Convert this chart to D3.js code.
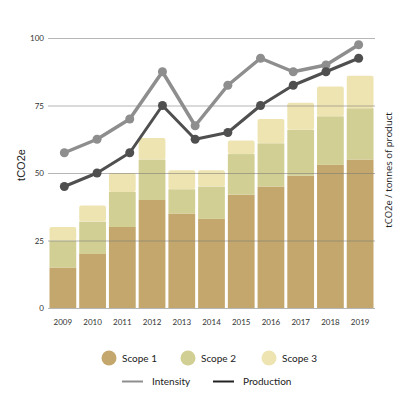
<!DOCTYPE html>
<html><head><meta charset="utf-8">
<script src="https://cdn.jsdelivr.net/npm/d3@7"></script>
<style>body{margin:0;background:#fff}svg{display:block}</style>
</head><body>
<script>
const years = ["2009","2010","2011","2012","2013","2014","2015","2016","2017","2018","2019"];
const scope1 = [15,20,30,40,35,33,42,45,49,53,55];
const scope2 = [10,12,13,15,9,12,15,16,17,18,19];
const scope3 = [5,6,7,8,7,6,5,9,10,11,12];
const lineIdx = ["p1","p2","p3","p4","p5","p6","p7","p8","p9","p10"];
const intensity = [57.5,62.5,70,87.5,67.5,82.5,92.5,87.5,90,97.5];
const production = [45,50,57.5,75,62.5,65,75,82.5,87.5,92.5];
const yTicks = [0,25,50,75,100];
const seriesNames = ["Scope 1","Scope 2","Scope 3"];
const colors = ["#c3a76c","#d1cf93","#ede4b1"];

const W=402,H=402;
const svg=d3.select("body").append("svg").attr("width",W).attr("height",H);
const x=d3.scaleBand().domain(years).range([48,375]).paddingInner(0.1).paddingOuter(0.05);
const xl=d3.scalePoint().domain(lineIdx).range([48,375]).padding(0.5);
const y=d3.scaleLinear().domain([0,100]).range([308,38]);

const rows=years.map((yr,i)=>({year:yr,s1:scope1[i],s2:scope2[i],s3:scope3[i]}));
const stack=d3.stack().keys(["s1","s2","s3"])(rows);
stack.forEach((layer,k)=>{
  svg.append("g").selectAll("rect").data(layer).join("rect")
    .attr("x",d=>x(d.data.year)).attr("width",x.bandwidth())
    .attr("y",d=>y(d[1])).attr("height",d=>y(d[0])-y(d[1]))
    .attr("rx",k===2?2:0)
    .attr("fill",colors[k]);
});

// gridlines on top
const ga=svg.append("g").attr("transform","translate(48,0)")
  .call(d3.axisLeft(y).tickValues(yTicks).tickSize(-327).tickPadding(4));
ga.select(".domain").remove();
ga.selectAll(".tick line").attr("stroke","#7a7a7a").attr("stroke-opacity",0.55);
ga.selectAll(".tick text").attr("font-family","Lato").attr("font-size",8).attr("fill","#333");

const gx=svg.append("g").attr("transform","translate(0,308)")
  .call(d3.axisBottom(x).tickSize(0).tickPadding(11));
gx.select(".domain").remove();
gx.selectAll(".tick text").attr("font-family","Lato").attr("font-size",8).attr("fill","#333");

function drawLine(vals,color,w,r){
  const pts=vals.map((v,i)=>[xl(lineIdx[i]),y(v)]);
  svg.append("path").attr("d",d3.line()(pts)).attr("fill","none")
    .attr("stroke",color).attr("stroke-width",w).attr("stroke-linejoin","round");
  svg.append("g").selectAll("circle").data(pts).join("circle")
    .attr("cx",d=>d[0]).attr("cy",d=>d[1]).attr("r",r).attr("fill",color);
}
drawLine(intensity,"#8e8e8e",3.5,4.5);
drawLine(production,"#4f4f4f",3,4.5);

svg.append("text").attr("transform","translate(25,165) rotate(-90)")
  .attr("text-anchor","middle").attr("font-family","Liberation Sans, Arial").attr("font-size",11).attr("fill","#222").text("tCO2e");
svg.append("text").attr("transform","translate(392,170) rotate(-90)")
  .attr("text-anchor","middle").attr("font-family","Open Sans").attr("font-size",9.5).attr("fill","#222").text("tCO2e / tonnes of product");

// legend
const lx=[109,188,269];
seriesNames.forEach((n,i)=>{
  svg.append("circle").attr("cx",lx[i]).attr("cy",358).attr("r",7.5).attr("fill",colors[i]);
  svg.append("text").attr("x",lx[i]+13).attr("y",361.5).attr("font-family","Lato").attr("font-size",10).attr("fill","#222").text(n);
});
const ll=[{n:"Intensity",c:"#8e8e8e",x:122},{n:"Production",c:"#222",x:213}];
ll.forEach(d=>{
  svg.append("line").attr("x1",d.x).attr("x2",d.x+21).attr("y1",381.5).attr("y2",381.5).attr("stroke",d.c).attr("stroke-width",2);
  svg.append("text").attr("x",d.x+30).attr("y",385).attr("font-family","Lato").attr("font-size",10).attr("fill","#222").text(d.n);
});
</script>
</body></html>
